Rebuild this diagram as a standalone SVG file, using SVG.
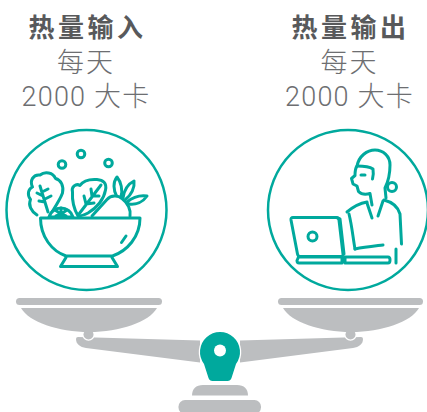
<svg xmlns="http://www.w3.org/2000/svg" width="427" height="412" viewBox="0 0 427 412">
  <style>
    .title { font-family: "Noto Sans CJK SC", "Noto Sans", sans-serif; font-weight: 700; font-size: 26px; fill: #58595b; text-anchor: middle; letter-spacing: 3.5px; }
    .sub { font-family: "Roboto", "Noto Sans CJK SC", sans-serif; font-weight: 300; font-size: 27px; fill: #6d6e71; text-anchor: middle; letter-spacing: 2px; }
    .num { letter-spacing: 1.2px; }
    .ring { fill: none; stroke: #00a99d; stroke-width: 2.5; }
    .ico { fill: none; stroke: #00a99d; stroke-width: 3; stroke-linecap: round; stroke-linejoin: round; }
    .ico-fill { fill: #ffffff; stroke: #00a99d; stroke-width: 3; stroke-linecap: round; stroke-linejoin: round; }
    .steel { fill: #bcbec0; }
    .cut { stroke: #ffffff; stroke-width: 2.5; paint-order: stroke; }
  </style>

  <!-- intake column -->
  <g id="intake">
    <text class="title" x="87.5" y="37">热量输入</text>
    <text class="sub" x="86" y="72">每天</text>
    <text class="sub num" x="86" y="106">2000 大卡</text>
    <circle class="ring" cx="86.5" cy="210" r="80"/>
    <!-- salad bowl -->
    <g id="salad">
      <circle class="ico" cx="62" cy="164.5" r="3.8"/>
      <circle class="ico" cx="81" cy="154" r="3.8"/>
      <circle class="ico" cx="108.5" cy="163" r="3.8"/>
      <!-- lettuce leaf -->
      <path class="ico-fill" d="M37 215 C31 211 28 205 30.5 199.5 C27 195 28 189 32.5 187 C29.5 181 33 174 40 175 C45 171 53 172.5 55.5 178.5 C61 180 64 186 62.5 193 C60 200 55 207 50 215"/>
      <path class="ico" d="M40 186 L48 212 M43 196 L37 193 M45 202 L39 201 M42 192 L48 189 M45 199 L51 196"/>
      <!-- tomato slice -->
      <path class="ico-fill" d="M49 217 A12.5 12.5 0 0 1 73 217 Z"/>
      <path class="ico" d="M61 217 L61 208 M61 214 L55 210 M61 214 L67 210 M61 214 L56 216 M61 214 L66 216"/>
      <!-- spinach leaf -->
      <path class="ico-fill" d="M78 216 C74 209 72 200 72.5 192 C71 187 76 183 80 185.5 C83 181 90 179 97 179.5 C103 180 107 183 105.5 190 C104 199 97 208 88 213 C84 215 80 216 78 216 Z"/>
      <path class="ico" d="M79 214 L101 185 M86 204 L84 196 M86 204 L94 203 M92 196 L91 189 M92 196 L99 196"/>
      <!-- root vegetable with tops -->
      <path class="ico" d="M117 197 C113 190 113 182 117 177 C121 182 123 190 121 197"/>
      <path class="ico" d="M123 198 C124 191 128 184 134 181 C135 188 131 195 126 199"/>
      <path class="ico" d="M127 202 C133 197 140 195 147 196 C143 202 136 205 129 204"/>
      <path class="ico-fill" d="M92 216 L107 199.5 C111 195 118 195 122 198.5 C128 203 131 210 130 216"/>
      <!-- bowl -->
      <path class="ico-fill" d="M40.5 218 H140 C140 237 127 251 112.5 256 H66 C52 251 40.5 237 40.5 218 Z"/>
      <path class="ico" d="M66 257.5 L60.5 266.5 H117.5 L112 257.5"/>
      <path class="ico" d="M126 236 L121.5 242.5"/>
    </g>
  </g>

  <!-- output column -->
  <g id="output">
    <text class="title" x="350.5" y="37">热量输出</text>
    <text class="sub" x="349.5" y="72">每天</text>
    <text class="sub num" x="349.5" y="106">2000 大卡</text>
    <circle class="ring" cx="348" cy="210" r="80"/>
    <!-- person at laptop -->
    <g id="worker">
      <!-- body -->
      <path class="ico" d="M347 212 C354 206 361 203 367 202"/>
      <path class="ico" d="M384 200 C392 202 398 207 400 214 L401.5 244"/>
      <path class="ico" d="M349 214 C352 226 353 238 355 249"/>
      <path class="ico" d="M355 249 C365 247 375 246 383 245"/>
      <path class="ico" d="M367 203 L372 218 M383 201 L378 216"/>
      <path class="ico" d="M396 249 V263"/>
      <!-- head -->
      <path class="ico" d="M372 205 L370 193.5 C365 195 361 194 358.5 191.5 L357 186 L353 184 C352.5 182 352 180 351.5 178.5 L355 175.5 C355 171 355.5 168 357 166 C359 156 367 150 375 150 C383 150 390 156 390 165 C390 175 388 182 385 188 L386 198"/>
      <path class="ico" d="M357 166 C364 166 370 167 373 169 C373.5 172 373.5 175 372.5 179"/>
      <path class="ico" d="M361 175 L365 175"/>
      <circle class="ico" cx="392" cy="187" r="4.5"/>
      <!-- laptop -->
      <path class="ico-fill" d="M293 217.5 H336 Q338.5 217.5 339 220 L343 254 Q343.3 256.5 341 256.5 H300 Q298 256.5 297.5 254 L291 220 Q290.7 217.5 293 217.5 Z"/>
      <path class="ico" d="M336 217.5 Q338 217.5 340 219 L344 254"/>
      <circle class="ico" cx="312.5" cy="236.5" r="4.5"/>
      <path class="ico" d="M298.5 257 H342 V263 H299 Q297 263 297 260.5 Z M345 257 H388 Q390 257 390 260 Q390 263 388 263 H345 Z"/>
    </g>
  </g>

  <!-- balance scale -->
  <g id="scale">
    <!-- beam -->
    <path class="steel" d="M78 337 L200 340.5 L200 362.5 L86 348 C80 347 76 344 76 339 Q76 337 78 337 Z"/>
    <path class="steel" d="M361 337 L240 340.5 L240 362.5 L353 348 C359 347 363 344 363 339 Q363 337 361 337 Z"/>
    <!-- hanger knobs -->
    <circle class="steel cut" cx="88.5" cy="334.5" r="5"/>
    <circle class="steel cut" cx="350.5" cy="334.5" r="5"/>
    <!-- left pan -->
    <rect class="steel" x="16" y="298" width="146" height="7" rx="3.5"/>
    <path class="steel" d="M21 308 H157 C149 322 120 332 89 332 C58 332 29 322 21 308 Z"/>
    <!-- right pan -->
    <rect class="steel" x="278" y="298" width="145" height="7" rx="3.5"/>
    <path class="steel" d="M283 308 H419 C411 322 382 332 351 332 C320 332 291 322 283 308 Z"/>
    <!-- pivot -->
    <path d="M204 364 A20 20 0 1 1 236 364 L231.5 378 Q230.5 381 227.5 381 H212.5 Q209.5 381 208.5 378 Z" fill="#00a99d" stroke="#ffffff" stroke-width="2.5" paint-order="stroke"/>
    <circle cx="220" cy="350.5" r="6" fill="#ffffff"/>
    <!-- base -->
    <path class="steel" d="M192 395.5 C192 389 196 385 203 385 H237 C244 385 248 389 248 395.5 Z"/>
    <rect class="steel" x="178.5" y="400" width="82.5" height="14" rx="6.5"/>
  </g>
</svg>
